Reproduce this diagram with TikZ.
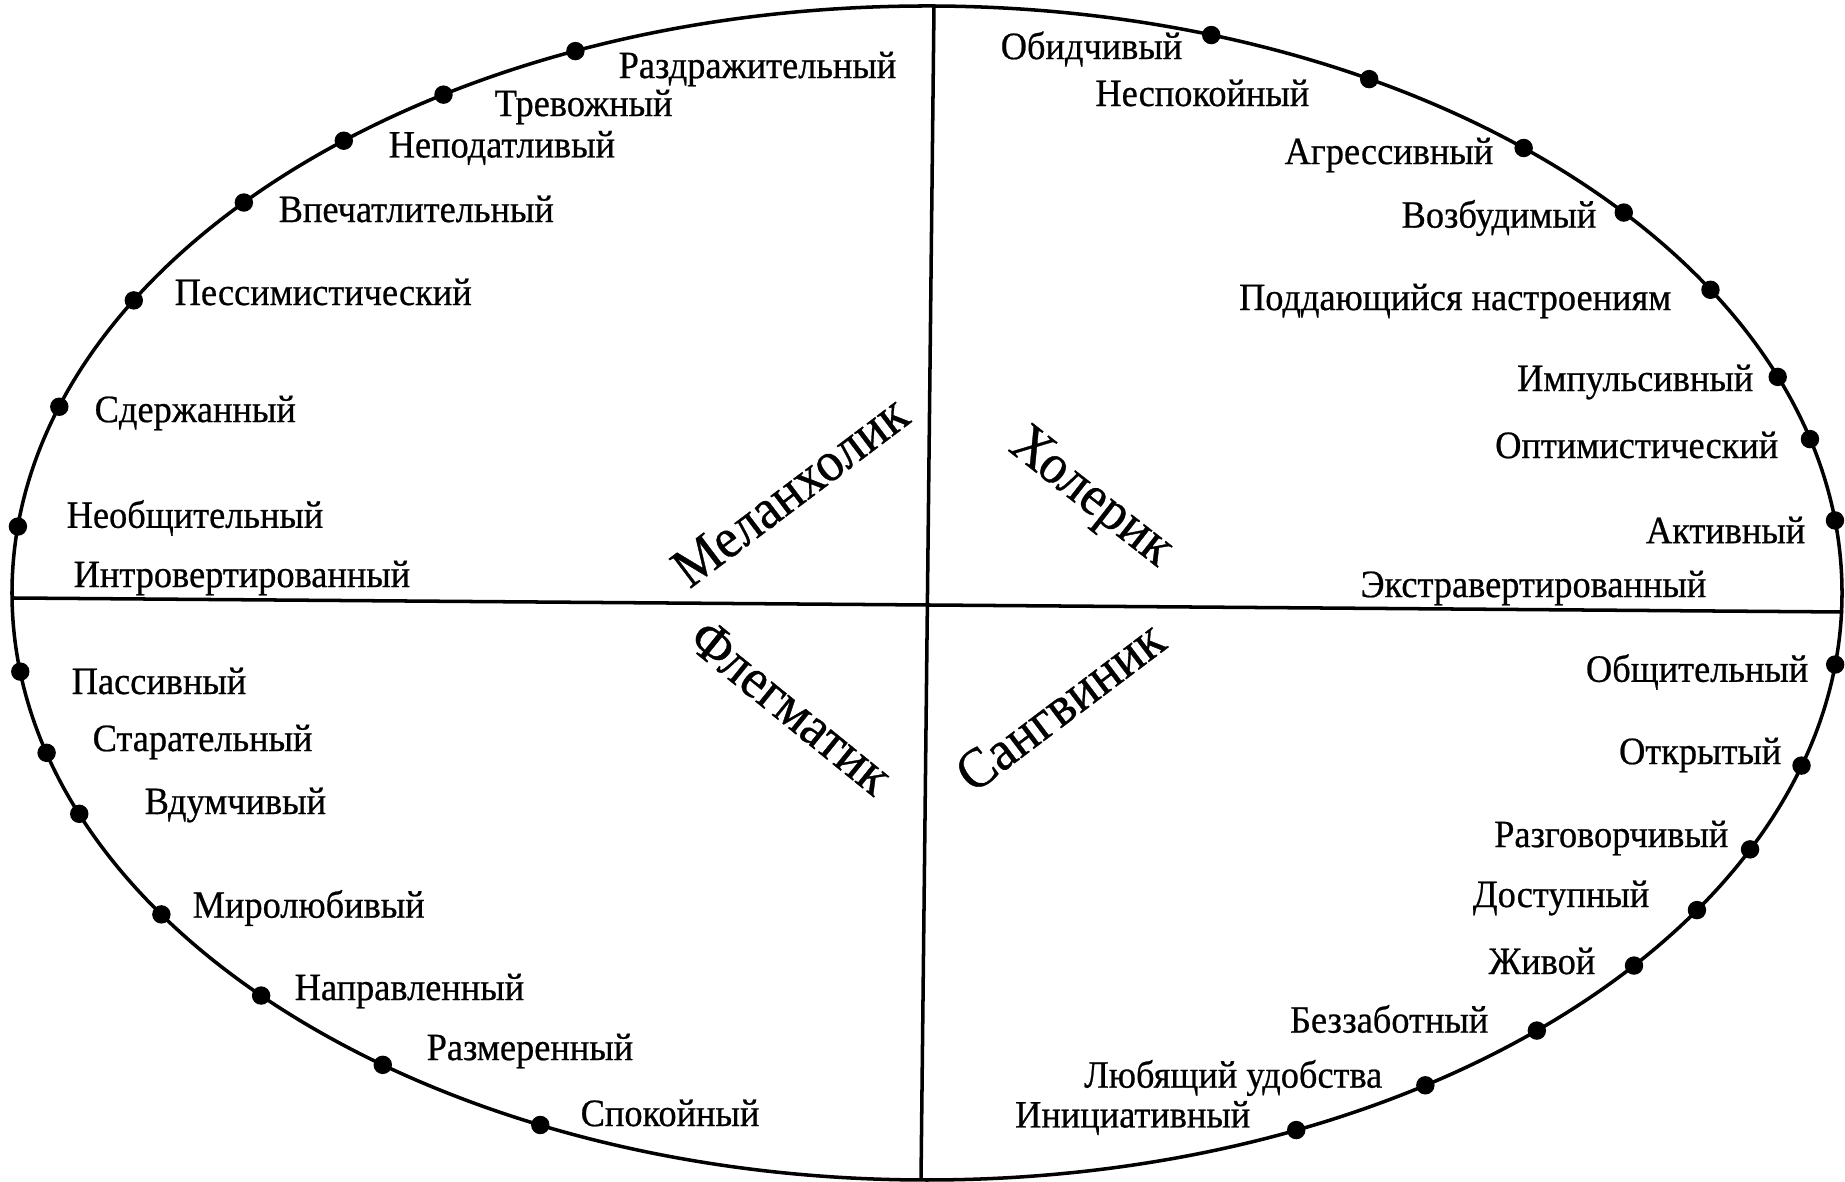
\documentclass[tikz,border=0pt]{standalone}
\usepackage{fontspec}
\setmainfont{Liberation Serif}[FakeStretch=0.94, FakeBold=0.6]
\tikzset{
    trait/.style={font=\fontsize{11}{13}\selectfont, inner sep=0pt},
    temper/.style={font=\fontsize{16}{19}\selectfont, inner sep=0pt}
}
\begin{document}
\begin{tikzpicture}[x=0.01cm, y=0.01cm]
    \useasboundingbox (0,0) rectangle (1845,1182);

    % Define the centre of the ellipse and the ends of the two dividing lines
    \coordinate (O) at (927, 589);
    \coordinate (T) at (934, 1176);
    \coordinate (B) at (921, 2);
    \coordinate (L) at (12, 584);
    \coordinate (R) at (1843, 570);

    % Draw the ellipse and the two lines
    \draw[line width=1pt] (O) ellipse [x radius=915, y radius=587];
    \draw[line width=1pt] (T) -- (B);
    \draw[line width=1pt] (L) -- (R);

    % Dots on the upper left arc
    \filldraw (O) ++(112.6:915 and 587) circle (8.5);
    \filldraw (O) ++(121.9:915 and 587) circle (8.5);
    \filldraw (O) ++(129.6:915 and 587) circle (8.5);
    \filldraw (O) ++(138.3:915 and 587) circle (8.5);
    \filldraw (O) ++(150.1:915 and 587) circle (8.5);
    \filldraw (O) ++(161.5:915 and 587) circle (8.5);
    \filldraw (O) ++(173.5:915 and 587) circle (8.5);

    % Dots on the upper right arc
    \filldraw (O) ++(71.9:915 and 587) circle (8.5);
    \filldraw (O) ++(61.1:915 and 587) circle (8.5);
    \filldraw (O) ++(49.3:915 and 587) circle (8.5);
    \filldraw (O) ++(40.4:915 and 587) circle (8.5);
    \filldraw (O) ++(31.1:915 and 587) circle (8.5);
    \filldraw (O) ++(21.6:915 and 587) circle (8.5);
    \filldraw (O) ++(15.2:915 and 587) circle (8.5);
    \filldraw (O) ++(7.1:915 and 587) circle (8.5);

    % Dots on the lower right arc
    \filldraw (O) ++(-7.0:915 and 587) circle (8.5);
    \filldraw (O) ++(-17.1:915 and 587) circle (8.5);
    \filldraw (O) ++(-25.9:915 and 587) circle (8.5);
    \filldraw (O) ++(-32.7:915 and 587) circle (8.5);
    \filldraw (O) ++(-39.4:915 and 587) circle (8.5);
    \filldraw (O) ++(-48.2:915 and 587) circle (8.5);
    \filldraw (O) ++(-57.0:915 and 587) circle (8.5);
    \filldraw (O) ++(-66.2:915 and 587) circle (8.5);

    % Dots on the lower left arc
    \filldraw (O) ++(187.7:915 and 587) circle (8.5);
    \filldraw (O) ++(195.8:915 and 587) circle (8.5);
    \filldraw (O) ++(202.1:915 and 587) circle (8.5);
    \filldraw (O) ++(213.2:915 and 587) circle (8.5);
    \filldraw (O) ++(223.3:915 and 587) circle (8.5);
    \filldraw (O) ++(233.5:915 and 587) circle (8.5);
    \filldraw (O) ++(245.0:915 and 587) circle (8.5);

    % Labels of the upper left part
    \node[trait, anchor=west] (m1) at (618, 1113) {Раздражительный};
    \node[trait, anchor=west] (m2) at (494, 1075) {Тревожный};
    \node[trait, anchor=west] (m3) at (388, 1034) {Неподатливый};
    \node[trait, anchor=west] (m4) at (278, 973) {Впечатлительный};
    \node[trait, anchor=west] (m5) at (174, 890) {Пессимистический};
    \node[trait, anchor=west] (m6) at (94, 769) {Сдержанный};
    \node[trait, anchor=west] (m7) at (66, 664) {Необщительный};
    \node[trait, anchor=west] (m8) at (73, 604) {Интровертированный};

    % Labels of the upper right part
    \node[trait, anchor=east] (c1) at (1183, 1133) {Обидчивый};
    \node[trait, anchor=east] (c2) at (1310, 1089) {Неспокойный};
    \node[trait, anchor=east] (c3) at (1494, 1027) {Агрессивный};
    \node[trait, anchor=east] (c4) at (1597, 964) {Возбудимый};
    \node[trait, anchor=east] (c5) at (1672, 881) {Поддающийся настроениям};
    \node[trait, anchor=east] (c6) at (1754, 800) {Импульсивный};
    \node[trait, anchor=east] (c7) at (1779, 737) {Оптимистический};
    \node[trait, anchor=east] (c8) at (1806, 652) {Активный};
    \node[trait, anchor=east] (c9) at (1707, 594) {Экстравертированный};

    % Labels of the lower right part
    \node[trait, anchor=east] (s1) at (1809, 510) {Общительный};
    \node[trait, anchor=east] (s2) at (1782, 427) {Открытый};
    \node[trait, anchor=east] (s3) at (1729, 344) {Разговорчивый};
    \node[trait, anchor=east] (s4) at (1650, 284) {Доступный};
    \node[trait, anchor=east] (s5) at (1596, 221) {Живой};
    \node[trait, anchor=east] (s6) at (1489, 163) {Беззаботный};
    \node[trait, anchor=east] (s7) at (1383, 104) {Любящий удобства};
    \node[trait, anchor=east] (s8) at (1251, 64) {Инициативный};

    % Labels of the lower left part
    \node[trait, anchor=west] (f1) at (71, 501) {Пассивный};
    \node[trait, anchor=west] (f2) at (92, 440) {Старательный};
    \node[trait, anchor=west] (f3) at (144, 377) {Вдумчивый};
    \node[trait, anchor=west] (f4) at (192, 274) {Миролюбивый};
    \node[trait, anchor=west] (f5) at (294, 191) {Направленный};
    \node[trait, anchor=west] (f6) at (426, 131) {Размеренный};
    \node[trait, anchor=west] (f7) at (580, 69) {Спокойный};

    % Names of the four temperaments
    \node[temper, rotate=37] (mel) at (790, 691) {Меланхолик};
    \node[temper, rotate=-38] (chol) at (1090, 683) {Холерик};
    \node[temper, rotate=-39] (phleg) at (791, 475) {Флегматик};
    \node[temper, rotate=37] (sang) at (1060, 476) {Сангвиник};

\end{tikzpicture}
\end{document}
